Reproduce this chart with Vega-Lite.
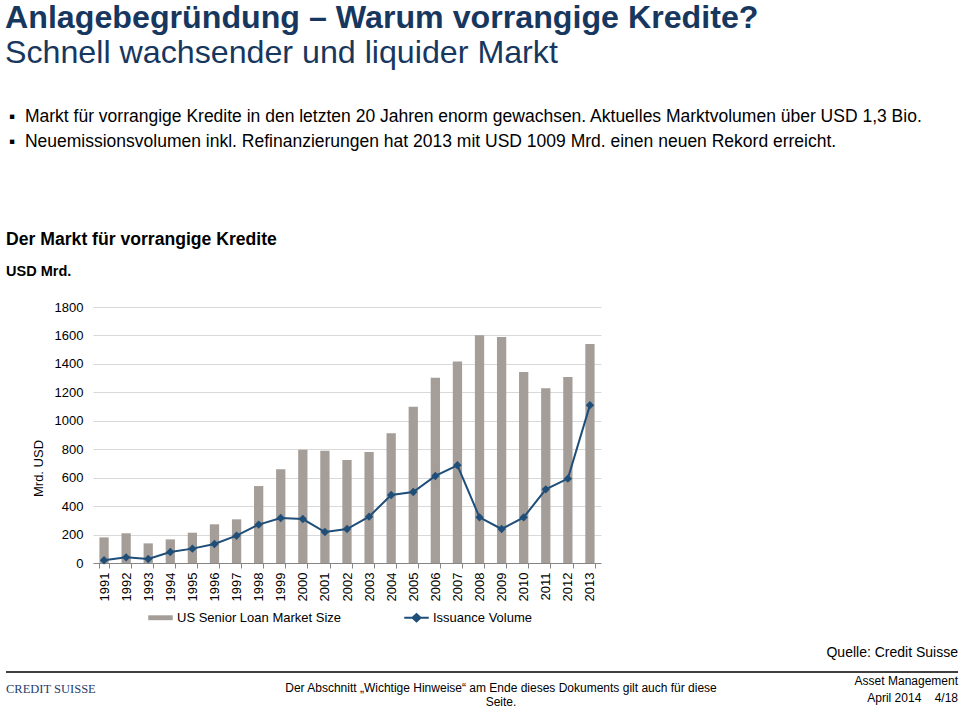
{
  "$schema": "https://vega.github.io/schema/vega-lite/v6.json",
  "padding": {"left": 5, "top": 2, "right": 3, "bottom": 0},
  "background": "white",
  "title": {
    "text": "Anlagebegründung – Warum vorrangige Kredite?",
    "subtitle": "Schnell wachsender und liquider Markt",
    "anchor": "start",
    "frame": "bounds",
    "font": "Liberation Sans",
    "fontSize": 32.2,
    "fontWeight": "bold",
    "color": "#17375E",
    "subtitleFont": "Liberation Sans",
    "subtitleFontSize": 32.2,
    "subtitleFontWeight": "normal",
    "subtitleColor": "#17375E",
    "subtitlePadding": 3,
    "offset": 37
  },
  "datasets": {
    "loans": [
      {"year": "1991", "series": "US Senior Loan Market Size", "value": 180},
      {"year": "1992", "series": "US Senior Loan Market Size", "value": 209},
      {"year": "1993", "series": "US Senior Loan Market Size", "value": 138},
      {"year": "1994", "series": "US Senior Loan Market Size", "value": 166},
      {"year": "1995", "series": "US Senior Loan Market Size", "value": 213},
      {"year": "1996", "series": "US Senior Loan Market Size", "value": 272},
      {"year": "1997", "series": "US Senior Loan Market Size", "value": 307},
      {"year": "1998", "series": "US Senior Loan Market Size", "value": 541},
      {"year": "1999", "series": "US Senior Loan Market Size", "value": 659},
      {"year": "2000", "series": "US Senior Loan Market Size", "value": 797},
      {"year": "2001", "series": "US Senior Loan Market Size", "value": 790},
      {"year": "2002", "series": "US Senior Loan Market Size", "value": 724},
      {"year": "2003", "series": "US Senior Loan Market Size", "value": 781},
      {"year": "2004", "series": "US Senior Loan Market Size", "value": 912},
      {"year": "2005", "series": "US Senior Loan Market Size", "value": 1099},
      {"year": "2006", "series": "US Senior Loan Market Size", "value": 1303},
      {"year": "2007", "series": "US Senior Loan Market Size", "value": 1416},
      {"year": "2008", "series": "US Senior Loan Market Size", "value": 1601},
      {"year": "2009", "series": "US Senior Loan Market Size", "value": 1589},
      {"year": "2010", "series": "US Senior Loan Market Size", "value": 1343},
      {"year": "2011", "series": "US Senior Loan Market Size", "value": 1228},
      {"year": "2012", "series": "US Senior Loan Market Size", "value": 1308},
      {"year": "2013", "series": "US Senior Loan Market Size", "value": 1540},
      {"year": "1991", "series": "Issuance Volume", "value": 19},
      {"year": "1992", "series": "Issuance Volume", "value": 40},
      {"year": "1993", "series": "Issuance Volume", "value": 28},
      {"year": "1994", "series": "Issuance Volume", "value": 77},
      {"year": "1995", "series": "Issuance Volume", "value": 101},
      {"year": "1996", "series": "Issuance Volume", "value": 134},
      {"year": "1997", "series": "Issuance Volume", "value": 192},
      {"year": "1998", "series": "Issuance Volume", "value": 270},
      {"year": "1999", "series": "Issuance Volume", "value": 316},
      {"year": "2000", "series": "Issuance Volume", "value": 309},
      {"year": "2001", "series": "Issuance Volume", "value": 218},
      {"year": "2002", "series": "Issuance Volume", "value": 239},
      {"year": "2003", "series": "Issuance Volume", "value": 326},
      {"year": "2004", "series": "Issuance Volume", "value": 478},
      {"year": "2005", "series": "Issuance Volume", "value": 499},
      {"year": "2006", "series": "Issuance Volume", "value": 612},
      {"year": "2007", "series": "Issuance Volume", "value": 687},
      {"year": "2008", "series": "Issuance Volume", "value": 321},
      {"year": "2009", "series": "Issuance Volume", "value": 239},
      {"year": "2010", "series": "Issuance Volume", "value": 321},
      {"year": "2011", "series": "Issuance Volume", "value": 518},
      {"year": "2012", "series": "Issuance Volume", "value": 593},
      {"year": "2013", "series": "Issuance Volume", "value": 1110}
    ],
    "footer": [
      {"part": "logo", "text": "CREDIT SUISSE"},
      {"part": "mid", "text": "Der Abschnitt „Wichtige Hinweise“ am Ende dieses Dokuments gilt auch für diese\nSeite."},
      {"part": "right", "text": "Asset Management\nApril 2014\u00a0\u00a0\u00a0\u00a04/18"}
    ]
  },
  "spacing": 12,
  "resolve": {"scale": {"color": "independent"}, "legend": {"color": "independent"}},
  "vconcat": [
    {
      "width": 865,
      "height": 68,
      "data": {"values": [{"t": ""}]},
      "mark": {"type": "text"},
      "encoding": {"text": {"field": "t", "type": "nominal"}},
      "title": {
        "text": ["▪\u00a0\u00a0Markt für vorrangige Kredite in den letzten 20 Jahren enorm gewachsen. Aktuelles Marktvolumen über USD 1,3 Bio.", "▪\u00a0\u00a0Neuemissionsvolumen inkl. Refinanzierungen hat 2013 mit USD 1009 Mrd. einen neuen Rekord erreicht."],
        "anchor": "start",
        "frame": "bounds",
        "dx": -84,
        "font": "Liberation Sans",
        "fontSize": 17.5,
        "fontWeight": "normal",
        "color": "#000000",
        "lineHeight": 25,
        "offset": 0
      }
    },
    {
      "width": 508,
      "height": 256,
      "data": {"name": "loans"},
      "title": {
        "text": "Der Markt für vorrangige Kredite",
        "subtitle": "USD Mrd.",
        "anchor": "start",
        "frame": "bounds",
        "dx": -26,
        "font": "Liberation Sans",
        "fontSize": 17.6,
        "fontWeight": "bold",
        "color": "#000000",
        "subtitleFont": "Liberation Sans",
        "subtitleFontSize": 14.5,
        "subtitleFontWeight": "bold",
        "subtitleColor": "#000000",
        "subtitlePadding": 16,
        "offset": 23
      },
      "encoding": {
        "x": {
          "field": "year",
          "type": "ordinal",
          "scale": {"paddingInner": 0.58, "paddingOuter": 0.29},
          "axis": {
            "title": null,
            "labelAngle": -90,
            "labelFont": "Liberation Sans",
            "labelFontSize": 13,
            "labelColor": "#000000",
            "tickBand": "extent",
            "domainColor": "#868686",
            "tickColor": "#868686",
            "tickSize": 5,
            "labelPadding": 4
          }
        },
        "y": {
          "field": "value",
          "type": "quantitative",
          "scale": {"domain": [0, 1800]},
          "axis": {
            "title": "Mrd. USD",
            "titleFont": "Liberation Sans",
            "titleFontSize": 13,
            "titleFontWeight": "normal",
            "titleColor": "#000000",
            "titlePadding": 9,
            "titleY": 161,
            "labelFont": "Liberation Sans",
            "labelFontSize": 13,
            "labelColor": "#000000",
            "labelPadding": 10,
            "format": "d",
            "values": [0, 200, 400, 600, 800, 1000, 1200, 1400, 1600, 1800],
            "domain": false,
            "ticks": false,
            "gridColor": "#D9D9D9",
            "gridWidth": 1
          }
        },
        "color": {
          "field": "series",
          "type": "nominal",
          "scale": {"domain": ["US Senior Loan Market Size", "Issuance Volume"], "range": ["#A59D97", "#1F4E79"]},
          "legend": {
            "title": null,
            "orient": "none",
            "legendX": 46,
            "legendY": 289,
            "padding": 9,
            "direction": "horizontal",
            "labelFont": "Liberation Sans",
            "labelFontSize": 13,
            "labelColor": "#000000",
            "labelLimit": 400,
            "columnPadding": 62,
            "symbolSize": 600,
            "labelOffset": 4,
            "encode": {
              "symbols": {
                "update": {
                  "shape": {"signal": "datum.value === 'Issuance Volume' ? 'M-1,-0.08 L-0.36,-0.08 L0,-0.4 L0.36,-0.08 L1,-0.08 L1,0.08 L0.36,0.08 L0,0.4 L-0.36,0.08 L-1,0.08 Z' : 'M-1,-0.2 L1,-0.2 L1,0.2 L-1,0.2 Z'"},
                  "fill": {"signal": "datum.value === 'Issuance Volume' ? '#1F4E79' : '#A59D97'"},
                  "strokeWidth": {"value": 0},
                  "opacity": {"value": 1}
                }
              }
            }
          }
        }
      },
      "layer": [
        {
          "transform": [{"filter": "datum.series === 'US Senior Loan Market Size'"}],
          "mark": {"type": "bar"}
        },
        {
          "transform": [{"filter": "datum.series === 'Issuance Volume'"}],
          "mark": {"type": "line", "strokeWidth": 2, "point": {"shape": "diamond", "size": 70, "filled": true, "opacity": 1}}
        }
      ]
    },
    {
      "width": 865,
      "height": 36,
      "data": {"name": "footer"},
      "title": {
        "text": "Quelle: Credit Suisse",
        "anchor": "end",
        "frame": "group",
        "font": "Liberation Sans",
        "fontSize": 14,
        "fontWeight": "normal",
        "color": "#000000",
        "offset": 11
      },
      "encoding": {
        "x": {"field": "part", "type": "nominal", "scale": {"type": "point", "domain": ["logo", "mid", "right"], "range": [-87, 865], "padding": 0}, "axis": null}
      },
      "layer": [
        {
          "mark": {"type": "rule", "color": "#404040", "strokeWidth": 2},
          "encoding": {"x": {"value": -87}, "x2": {"value": 865}, "y": {"value": 0}}
        },
        {
          "transform": [{"filter": "datum.part === 'logo'"}],
          "mark": {"type": "text", "align": "left", "baseline": "middle", "dy": -1, "font": "Liberation Serif", "fontSize": 12.5, "color": "#1F3D6E", "letterSpacing": 0.5},
          "encoding": {"text": {"field": "text", "type": "nominal"}}
        },
        {
          "transform": [{"filter": "datum.part === 'mid'"}],
          "mark": {"type": "text", "align": "center", "baseline": "middle", "dx": 19, "dy": -2, "lineBreak": "\n", "lineHeight": 14, "font": "Liberation Sans", "fontSize": 12, "color": "#000000"},
          "encoding": {"text": {"field": "text", "type": "nominal"}}
        },
        {
          "transform": [{"filter": "datum.part === 'right'"}],
          "mark": {"type": "text", "align": "right", "baseline": "middle", "dy": -9, "lineBreak": "\n", "lineHeight": 17, "font": "Liberation Sans", "fontSize": 12, "color": "#000000"},
          "encoding": {"text": {"field": "text", "type": "nominal"}}
        }
      ]
    }
  ],
  "config": {
    "view": {"stroke": null},
    "font": "Liberation Sans"
  }
}
